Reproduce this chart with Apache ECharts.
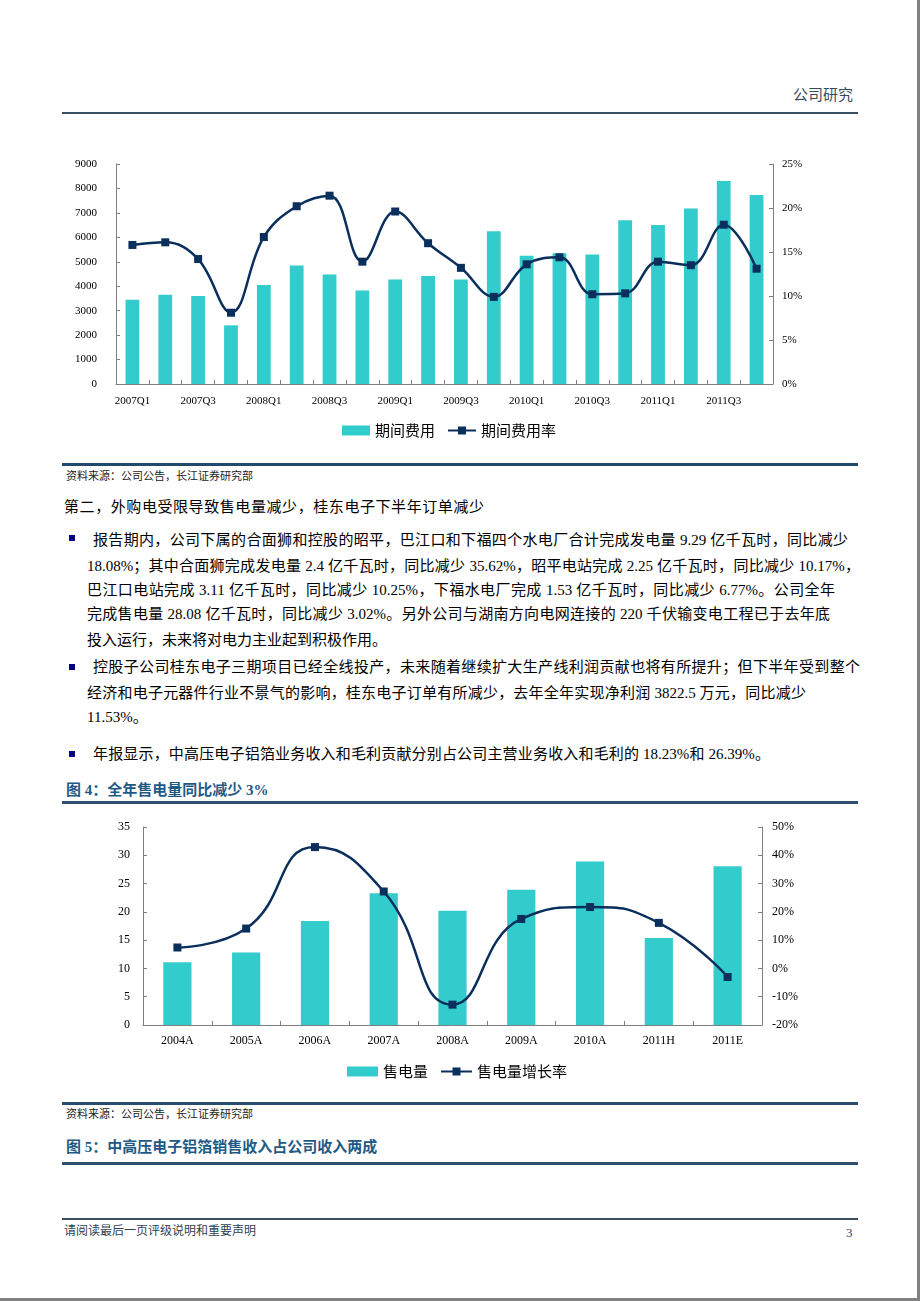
<!DOCTYPE html>
<html>
<head>
<meta charset="utf-8">
<script src="https://cdn.jsdelivr.net/npm/echarts@6/dist/echarts.min.js"></script>
<style>
  html, body { margin: 0; padding: 0; background: #fff; }
  #page { position: relative; width: 920px; height: 1301px; overflow: hidden; background: #fff;
          font-family: "Liberation Serif", "Noto Sans CJK SC", serif; color: #000; }
  .abs { position: absolute; white-space: nowrap; }
  .hr { position: absolute; left: 62px; width: 796px; }
  .ln { position: absolute; white-space: nowrap; font-size: 15px; line-height: 20px; height: 20px; }
  .just { text-align: justify; text-align-last: justify; }
  .bul { position: absolute; width: 6px; height: 6px; background: #000080; left: 69px; }
  .ttl { position: absolute; left: 66px; font-size: 15px; font-weight: bold; color: #1f5a85; line-height: 20px; white-space: nowrap; }
  .src { position: absolute; left: 66px; font-size: 11px; line-height: 14px; color: #222; white-space: nowrap; }
</style>
</head>
<body>
<div id="page">
  <div class="abs" style="left:793px; top:85px; font-size:15px; line-height:20px; color:#3a4a5c;">公司研究</div>
  <div class="hr" style="top:112px; height:2px; background:#3b4f63;"></div>

  <div id="c1" style="position:absolute; left:0; top:140px; width:920px; height:310px;"></div>

  <div class="hr" style="top:463px; height:3px; background:#1f4a6e;"></div>
  <div class="src" style="top:469px;">资料来源：公司公告，长江证券研究部</div>

  <div class="ln just" style="left:64px; top:497px; width:420px;">第二，外购电受限导致售电量减少，桂东电子下半年订单减少</div>

  <div class="bul" style="top:535px;"></div>
  <div class="ln just" style="left:93px; top:530px; width:755px;">报告期内，公司下属的合面狮和控股的昭平，巴江口和下福四个水电厂合计完成发电量 9.29 亿千瓦时，同比减少</div>
  <div class="ln just" style="left:87px; top:556px; width:773px;">18.08%；其中合面狮完成发电量 2.4 亿千瓦时，同比减少 35.62%，昭平电站完成 2.25 亿千瓦时，同比减少 10.17%，</div>
  <div class="ln just" style="left:87px; top:580px; width:748px;">巴江口电站完成 3.11 亿千瓦时，同比减少 10.25%，下福水电厂完成 1.53 亿千瓦时，同比减少 6.77%。公司全年</div>
  <div class="ln just" style="left:87px; top:604px; width:743px;">完成售电量 28.08 亿千瓦时，同比减少 3.02%。另外公司与湖南方向电网连接的 220 千伏输变电工程已于去年底</div>
  <div class="ln" style="left:87px; top:630px;">投入运行，未来将对电力主业起到积极作用。</div>

  <div class="bul" style="top:664px;"></div>
  <div class="ln just" style="left:93px; top:657px; width:767px;">控股子公司桂东电子三期项目已经全线投产，未来随着继续扩大生产线利润贡献也将有所提升；但下半年受到整个</div>
  <div class="ln just" style="left:87px; top:683px; width:719px;">经济和电子元器件行业不景气的影响，桂东电子订单有所减少，去年全年实现净利润 3822.5 万元，同比减少</div>
  <div class="ln" style="left:87px; top:707px;">11.53%。</div>

  <div class="bul" style="top:751px;"></div>
  <div class="ln just" style="left:93px; top:744px; width:677px;">年报显示，中高压电子铝箔业务收入和毛利贡献分别占公司主营业务收入和毛利的 18.23%和 26.39%。</div>

  <div class="ttl" style="top:780px;">图 4：全年售电量同比减少 3%</div>
  <div class="hr" style="top:801px; height:3px; background:#2d4f70;"></div>

  <div id="c2" style="position:absolute; left:0; top:810px; width:920px; height:280px;"></div>

  <div class="hr" style="top:1102px; height:3px; background:#2a4d6e;"></div>
  <div class="src" style="top:1107px;">资料来源：公司公告，长江证券研究部</div>
  <div class="ttl" style="top:1137px;">图 5：中高压电子铝箔销售收入占公司收入两成</div>
  <div class="hr" style="top:1162px; height:3px; background:#2d4f70;"></div>

  <div class="hr" style="top:1218px; height:2px; background:#3b4f63;"></div>
  <div class="abs" style="left:64px; top:1223px; font-size:12px; line-height:16px; color:#2f3f50;">请阅读最后一页评级说明和重要声明</div>
  <div class="abs" style="left:846px; top:1225px; font-size:13px; line-height:16px; color:#2f3f50;">3</div>

  <div style="position:absolute; left:917px; top:0; width:3px; height:1301px; background:#808080;"></div>
  <div style="position:absolute; left:0; top:1298px; width:920px; height:3px; background:#808080;"></div>
</div>

<script>
// ---- Chart 1 data ----
var quarters = ['2007Q1','2007Q2','2007Q3','2007Q4','2008Q1','2008Q2','2008Q3','2008Q4',
                '2009Q1','2009Q2','2009Q3','2009Q4','2010Q1','2010Q2','2010Q3','2010Q4',
                '2011Q1','2011Q2','2011Q3','2011Q4'];
var expense = [3450,3650,3600,2400,4050,4850,4480,3820,4280,4420,4280,6250,5250,5350,5300,6700,6500,7180,8300,7730];
var expenseRate = [15.8,16.1,14.2,8.1,16.7,20.2,21.4,13.9,19.6,16.0,13.2,9.9,13.6,14.4,10.2,10.3,13.9,13.5,18.1,13.1];

// ---- Chart 2 data ----
var years = ['2004A','2005A','2006A','2007A','2008A','2009A','2010A','2011H','2011E'];
var sales = [11.1,12.8,18.4,23.3,20.2,23.9,28.9,15.4,28.08];
var salesGrowth = [7.4,14.1,42.9,27.2,-12.8,17.5,21.7,16.1,-3.02];

var BAR = '#33CCCC', LINE = '#0a2f5c', AX = '#7f7f7f';
var serif = 'Liberation Serif';
var cjk = 'Noto Sans CJK SC';

function yAxis(min, max, interval, suffix, pos, size, margin) {
  return {
    type: 'value', position: pos, min: min, max: max, interval: interval,
    axisLine: { show: true, lineStyle: { color: AX, width: 1 } },
    axisTick: { show: true, inside: true, length: 4, lineStyle: { color: AX } },
    splitLine: { show: false },
    axisLabel: { formatter: function (v) { return String(v) + suffix; },
                 fontFamily: serif, fontSize: size, color: '#000', margin: margin }
  };
}

var c1 = echarts.init(document.getElementById('c1'), null, { renderer: 'canvas' });
c1.setOption({
  animation: false,
  grid: { left: 116, top: 24, width: 657, height: 220 },
  legend: {
    left: 337, top: 278, itemWidth: 28, itemHeight: 10, itemGap: 12,
    textStyle: { fontFamily: cjk, fontSize: 15, color: '#000' },
    data: [{ name: '期间费用', icon: 'rect' }, { name: '期间费用率' }]
  },
  xAxis: {
    type: 'category', data: quarters,
    axisLine: { lineStyle: { color: AX, width: 1 } },
    axisTick: { show: true, inside: true, length: 4, interval: 0, alignWithLabel: false, lineStyle: { color: AX } },
    axisLabel: { interval: 1, fontFamily: serif, fontSize: 11, color: '#000', margin: 12 }
  },
  yAxis: [
    yAxis(0, 9000, 1000, '', 'left', 11, 19),
    yAxis(0, 25, 5, '%', 'right', 11, 9)
  ],
  series: [
    { name: '期间费用', type: 'bar', data: expense, barWidth: '42%', itemStyle: { color: BAR } },
    { name: '期间费用率', type: 'line', yAxisIndex: 1, data: expenseRate, smooth: 0.4,
      symbol: 'rect', symbolSize: 8, lineStyle: { color: LINE, width: 2.5 },
      itemStyle: { color: LINE } }
  ]
});

var c2 = echarts.init(document.getElementById('c2'), null, { renderer: 'canvas' });
c2.setOption({
  animation: false,
  grid: { left: 143, top: 17, width: 619, height: 198 },
  legend: {
    left: 342, top: 249, itemWidth: 31, itemHeight: 10, itemGap: 12,
    textStyle: { fontFamily: cjk, fontSize: 15, color: '#000' },
    data: [{ name: '售电量', icon: 'rect' }, { name: '售电量增长率' }]
  },
  xAxis: {
    type: 'category', data: years,
    axisLine: { lineStyle: { color: AX, width: 1 } },
    axisTick: { show: true, inside: true, length: 4, interval: 0, alignWithLabel: false, lineStyle: { color: AX } },
    axisLabel: { interval: 0, fontFamily: serif, fontSize: 12, color: '#000', margin: 10 }
  },
  yAxis: [
    yAxis(0, 35, 5, '', 'left', 12, 13),
    yAxis(-20, 50, 10, '%', 'right', 12, 10)
  ],
  series: [
    { name: '售电量', type: 'bar', data: sales, barWidth: '41%', itemStyle: { color: BAR } },
    { name: '售电量增长率', type: 'line', yAxisIndex: 1, data: salesGrowth, smooth: 0.5,
      symbol: 'rect', symbolSize: 8, lineStyle: { color: LINE, width: 2.5 },
      itemStyle: { color: LINE } }
  ]
});
</script>
</body>
</html>
